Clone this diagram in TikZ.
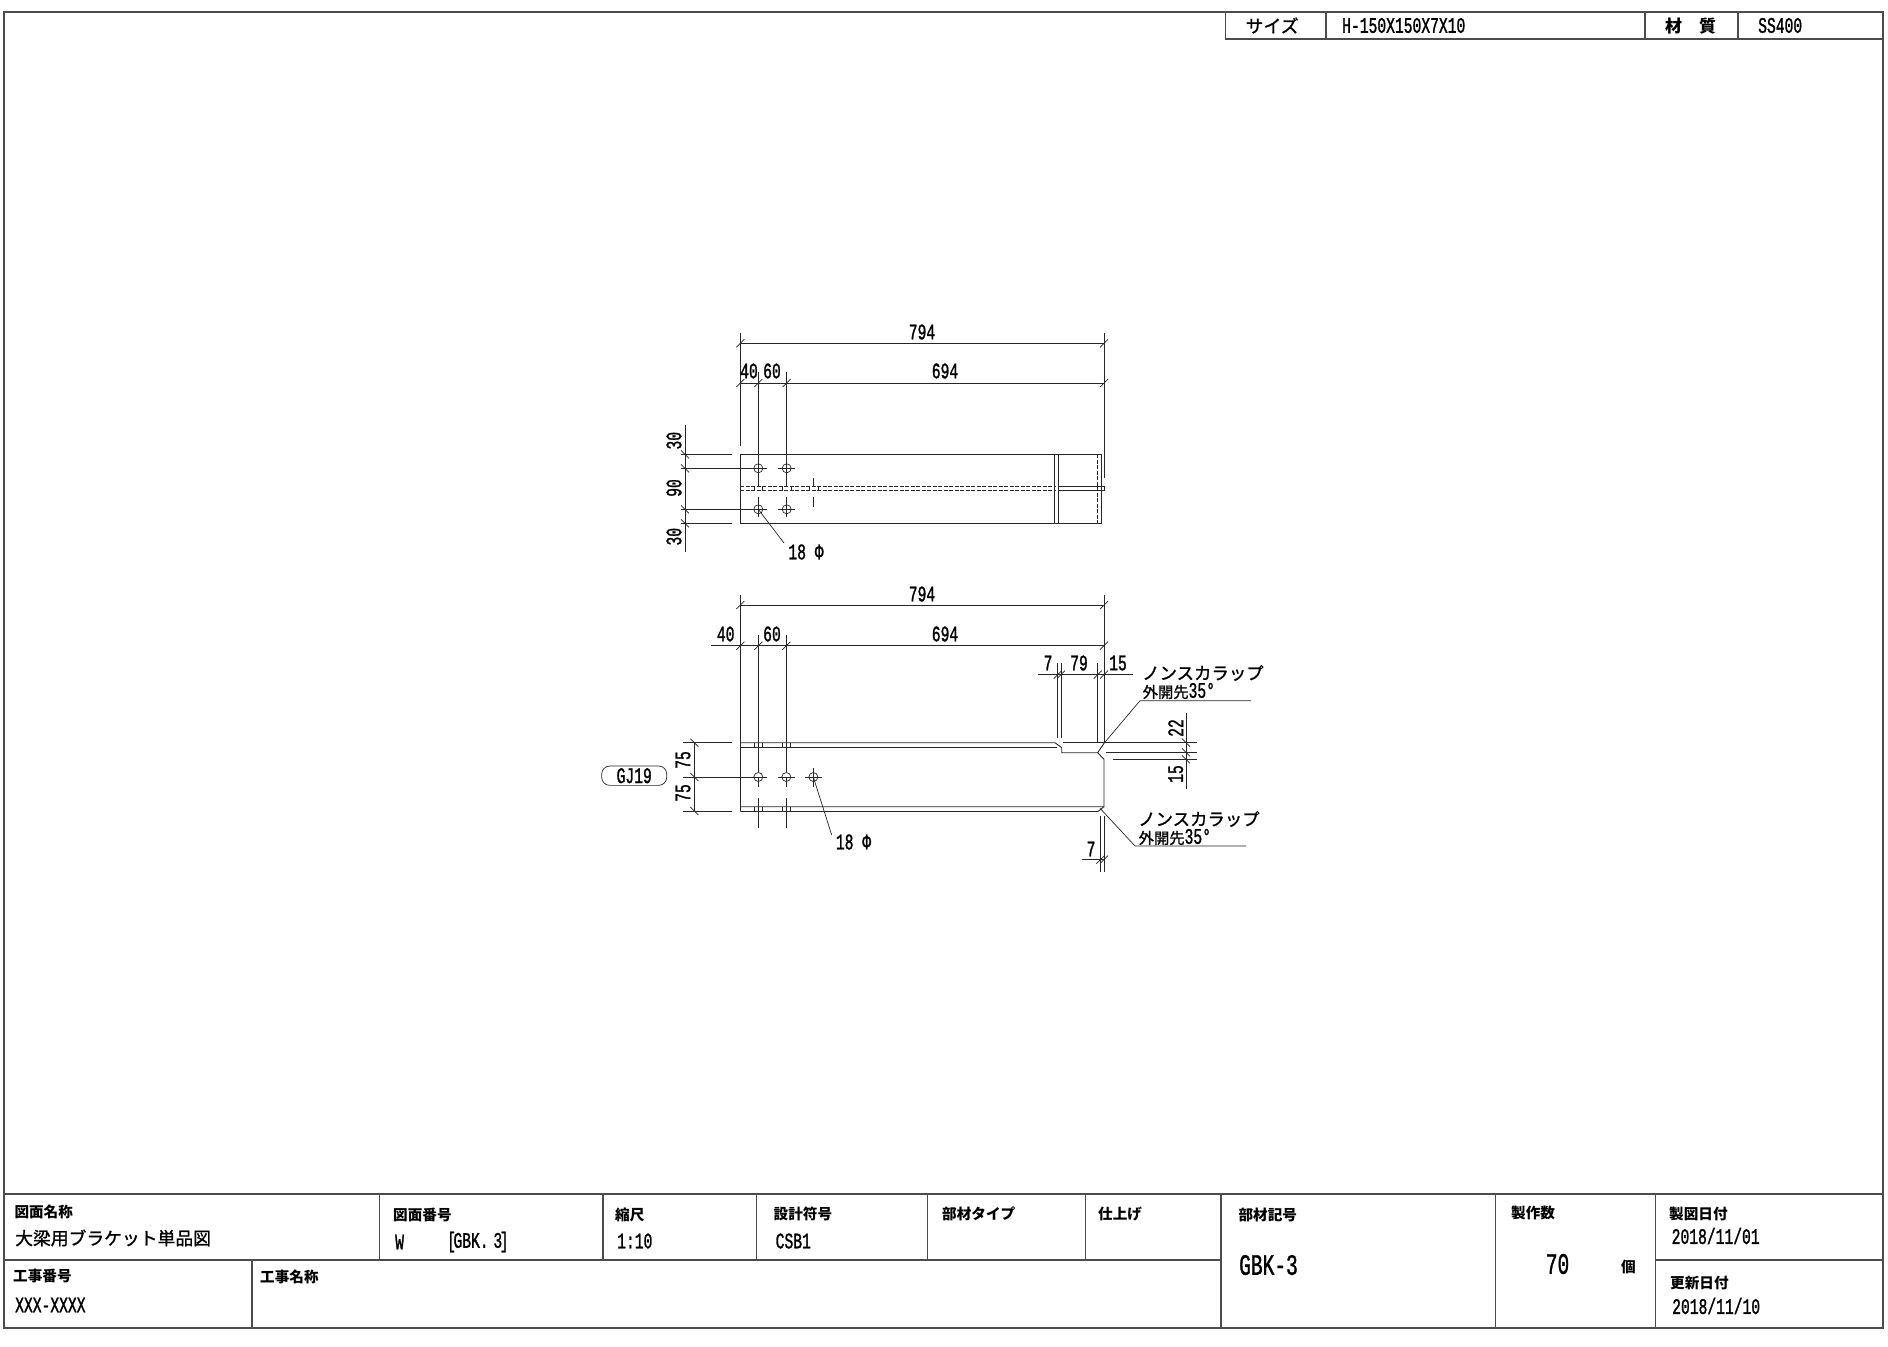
\documentclass[tikz,border=0pt]{standalone}
\usepackage{fontspec}
\newfontfamily\jpfont{Noto Sans CJK JP}
\newfontfamily\jpmidfont[FakeBold=1.2]{Noto Sans CJK JP}
\newfontfamily\narrowfont[FakeStretch=0.66,FakeBold=1.2]{Liberation Mono}
\tikzset{
  frameline/.style={line width=1.1pt,draw=black!70},
  partline/.style={line width=0.9pt,draw=black!85},
  dimline/.style={line width=0.7pt,draw=black!85},
  webline/.style={line width=0.8pt,draw=black!85,dash pattern=on 4pt off 1.5pt},
  dimtext/.style={inner sep=0pt,font=\narrowfont\fontsize{22.2}{22}\selectfont},
  valtext/.style={anchor=west,inner sep=0pt,font=\narrowfont\fontsize{22.2}{22}\selectfont},
  bigtext/.style={anchor=west,inner sep=0pt,font=\narrowfont\fontsize{29.6}{30}\selectfont},
  headtext/.style={anchor=west,inner sep=0pt,font=\jpfont\bfseries\fontsize{14.6}{15}\selectfont},
  nametext/.style={anchor=west,inner sep=0pt,font=\jpmidfont\fontsize{17.8}{18}\selectfont},
  notetext/.style={anchor=west,inner sep=0pt,font=\jpmidfont\fontsize{17.4}{18}\selectfont},
  subtext/.style={anchor=west,inner sep=0pt,font=\jpmidfont\fontsize{15.3}{16}\selectfont},
}
\begin{document}
\begin{tikzpicture}[x=1pt,y=1pt,yscale=-1,xscale=1]
  \useasboundingbox (0,0) rectangle (1888,1347);
  % Sheet frame
  \draw[frameline] (4,12) rectangle (1883,1328);
  \draw[frameline] (4,1194) -- (1883,1194) (4,1260) -- (1221,1260) (1655.5,1260) -- (1883,1260);
  \foreach \px in {379.6,603,756.7,927.8,1085.7} \draw[frameline] (\px,1194) -- (\px,1260);
  \draw[frameline] (252,1260) -- (252,1328);
  \foreach \px in {1221,1495.6,1655.5} \draw[frameline] (\px,1194) -- (\px,1328);
  \draw[frameline] (1225.6,12) -- (1225.6,39) -- (1883,39);
  \foreach \px in {1326,1645,1738} \draw[frameline] (\px,12) -- (\px,39);

  % Text Node
  \draw (1245.5,25.5) node [nametext] (sizehead) {サイズ};
  \draw (1342,25.5) node [valtext] (sizeval) {H-150X150X7X10};
  \draw (1665,26) node [headtext,font=\jpfont\bfseries\fontsize{17}{17}\selectfont] (mathead) {材\hspace{17pt}質};
  \draw (1758,25.5) node [valtext] (matval) {SS400};

  % Text Node
  \draw (14.3,1212) node [headtext] (titlehead) {図面名称};
  \draw (15,1238) node [nametext] (titleval) {大梁用ブラケット単品図};
  \draw (393,1215) node [headtext] (nohead) {図面番号};
  \draw (395,1242) node [valtext] (noval) {W};
  \draw (447,1242) node [valtext] (nocode) {[\kern-2.5pt GBK.\kern-2pt\ \kern-2pt 3\kern-2.5pt]};
  \draw (615,1215) node [headtext] (scalehead) {縮尺};
  \draw (617,1241) node [valtext] (scaleval) {1:10};
  \draw (773.5,1214) node [headtext] (designhead) {設計符号};
  \draw (775.5,1241) node [valtext] (designval) {CSB1};
  \draw (942,1214) node [headtext] (typehead) {部材タイプ};
  \draw (1098,1214) node [headtext] (finishhead) {仕上げ};
  \draw (13,1276) node [headtext] (jobnohead) {工事番号};
  \draw (15,1305) node [valtext] (jobnoval) {XXX-XXXX};
  \draw (260,1277) node [headtext] (jobhead) {工事名称};
  \draw (1238.4,1215) node [headtext] (markhead) {部材記号};
  \draw (1239,1265) node [bigtext] (markval) {GBK-3};
  \draw (1511,1213) node [headtext] (counthead) {製作数};
  \draw (1545.6,1264) node [bigtext] (countval) {70};
  \draw (1621,1267) node [headtext] (countunit) {個};
  \draw (1669,1214) node [headtext] (drawnhead) {製図日付};
  \draw (1671.5,1236) node [valtext] (drawnval) {2018/11/01};
  \draw (1670,1283) node [headtext] (updatehead) {更新日付};
  \draw (1672,1306) node [valtext] (updateval) {2018/11/10};

  % Upper view: body
  \draw[partline] (740.3,454.3) rectangle (1101,523.3);
  \draw[partline] (1054.7,454.3) -- (1054.7,523.3) (1058,454.3) -- (1058,523.3);
  \draw[webline] (1097.3,454.3) -- (1097.3,523.3);
  \draw[webline] (740.3,486.7) -- (1056,486.7) (740.3,490.7) -- (1056,490.7);
  \draw[partline] (1058,486.7) -- (1104,486.7) -- (1104,490.7) -- (1058,490.7);
  \foreach \px in {754,762.7,782,791,809,818} \draw[dimline] (\px,486.7) -- (\px,490.7);
  % Upper view: holes
  \foreach \px in {758.3,786.7} \foreach \py in {468.3,509.3} {
    \draw[dimline] (\px,\py) circle (4.5);
    \draw[dimline] (\px-8.5,\py) -- (\px+8.5,\py);
  }
  \draw[dimline] (758.3,372) -- (758.3,487) (786.7,372) -- (786.7,487);
  \draw[dimline] (758.3,497) -- (758.3,517) (786.7,497) -- (786.7,517);
  \draw[dimline] (813.3,478) -- (813.3,487) (813.3,497) -- (813.3,507);
  % Upper view: dimensions
  \draw[dimline] (740.3,333) -- (740.3,446) (1104,333) -- (1104,478);
  \draw[dimline] (740.3,343.3) -- (1104,343.3) (740.3,383) -- (1104,383);
  \foreach \px in {740.3,1104} \draw[dimline] (\px-4,347.3) -- (\px+4,339.3);
  \foreach \px in {740.3,758.3,786.7,1104} \draw[dimline] (\px-4,387) -- (\px+4,379);
  \draw[dimline] (685,425) -- (685,551.7);
  \draw[dimline] (681,454.3) -- (731.7,454.3) (681,523.3) -- (731.7,523.3);
  \draw[dimline] (681,468.3) -- (754,468.3) (681,509.3) -- (754,509.3);
  \foreach \py in {454.3,468.3,509.3,523.3} \draw[dimline] (681,\py-4) -- (689,\py+4);
  \draw[dimline] (758.3,509.3) -- (784,543);

  % Text Node
  \draw (922,332) node [dimtext] (upperall) {794};
  \draw (749,371) node [dimtext] (upperforty) {40};
  \draw (772,371) node [dimtext] (uppersixty) {60};
  \draw (945,371) node [dimtext] (upperrest) {694};
  \draw (674,440.7) node [dimtext,rotate=90] (uppertop) {30};
  \draw (674,488) node [dimtext,rotate=90] (uppermid) {90};
  \draw (674,536.7) node [dimtext,rotate=90] (upperlow) {30};
  \draw (806,552) node [dimtext] (upperhole) {18 Φ};

  % Lower view: body
  \draw[partline] (740.3,595) -- (740.3,811);
  \draw[partline] (740.3,742.7) -- (1055,742.7) -- (1061.7,747.7) -- (1061.7,752.7) -- (1097.7,752.7) -- (1104,743.3);
  \draw[partline] (740.3,747.7) -- (1056.5,747.7);
  \draw[partline] (1063.3,742.7) -- (1196.7,742.7);
  \draw[partline] (1097.7,752.7) -- (1104,759.3) -- (1104,806.7) -- (740.3,806.7);
  \draw[partline] (740.3,811.5) -- (1098,811.5) -- (1104,806.7);
  \draw[partline] (1104,595) -- (1104,743.3);
  \foreach \px in {754,762.7,782,790.7} {
    \draw[dimline] (\px,742.7) -- (\px,747.7);
    \draw[dimline] (\px,806.7) -- (\px,811.5);
  }
  % Lower view: holes
  \foreach \px in {758.3,786.3,813.3} {
    \draw[dimline] (\px,777) circle (4.5);
    \draw[dimline] (\px-8.5,777) -- (\px+8.5,777);
    \draw[dimline] (\px,777) -- (\px,786.7);
  }
  \draw[dimline] (813.3,768) -- (813.3,777);
  \draw[dimline] (758.3,635) -- (758.3,772) (786.3,635) -- (786.3,772);
  \draw[dimline] (758.3,798) -- (758.3,828) (786.3,798) -- (786.3,828);
  \draw[dimline] (813.3,777) -- (831.7,835);
  % Lower view: dimensions
  \draw[dimline] (740.3,605) -- (1104,605) (711,645.7) -- (1104,645.7);
  \foreach \px in {740.3,1104} \draw[dimline] (\px-4,609) -- (\px+4,601);
  \foreach \px in {740.3,758.3,786.3,1104} \draw[dimline] (\px-4,649.7) -- (\px+4,641.7);
  \draw[dimline] (694.3,742.7) -- (694.3,811);
  \draw[dimline] (683,742.7) -- (731.7,742.7) (683,811) -- (731.7,811) (683,777) -- (754,777);
  \foreach \py in {742.7,777,811} \draw[dimline] (690.3,\py-4) -- (698.3,\py+4);
  \draw[dimline] (1038,674.7) -- (1133,674.7);
  \draw[dimline] (1057.7,663) -- (1057.7,738) (1061,663) -- (1061,738) (1097.7,663) -- (1097.7,743);
  \foreach \px in {1057.7,1061,1097.7,1104} \draw[dimline] (\px-4,678.7) -- (\px+4,670.7);
  \draw[dimline] (1106,752.3) -- (1196.7,752.3) (1112.7,759.3) -- (1196.7,759.3);
  \draw[dimline] (1186,713.3) -- (1186,788.7);
  \foreach \py in {742.7,752.3,759.3} \draw[dimline] (1182,\py-4) -- (1190,\py+4);
  \draw[dimline] (1100.3,816) -- (1100.3,871.7) (1104,816) -- (1104,871.7);
  \draw[dimline] (1081.7,859.7) -- (1104,859.7);
  \foreach \px in {1100.3,1104} \draw[dimline] (\px-4,863.7) -- (\px+4,855.7);
  % Weld leaders
  \draw[dimline] (1104,743.3) -- (1140,700.7) -- (1251,700.7);
  \draw[dimline] (1100,808.3) -- (1135,846) -- (1246,846);

  % Text Node
  \draw (922,594) node [dimtext] (lowerall) {794};
  \draw (725.7,634) node [dimtext] (lowerforty) {40};
  \draw (772,634) node [dimtext] (lowersixty) {60};
  \draw (945,634) node [dimtext] (lowerrest) {694};
  \draw (1048,663) node [dimtext] (cutseven) {7};
  \draw (1079,663) node [dimtext] (cutlong) {79};
  \draw (1118,663) node [dimtext] (cutend) {15};
  \draw (683,760) node [dimtext,rotate=90] (lowertop) {75};
  \draw (683,793) node [dimtext,rotate=90] (lowerlow) {75};
  \draw (1175.7,728) node [dimtext,rotate=90] (weldtop) {22};
  \draw (1175.7,774) node [dimtext,rotate=90] (weldlow) {15};
  \draw (1091,849) node [dimtext] (flangeseven) {7};
  \draw (853.5,842) node [dimtext] (lowerhole) {18 Φ};
  \draw (634.2,775.7) node [dimtext,draw=black!85,line width=0.7pt,rounded corners=8pt,minimum width=65pt,minimum height=19.3pt] (jointtag) {GJ19};
  \draw (1142,673) node [notetext] (noteone) {ノンスカラップ};
  \draw (1142.5,691) node [subtext] (subone) {外開先{\narrowfont\fontsize{22.2}{22}\selectfont 35°}};
  \draw (1138,819) node [notetext] (notetwo) {ノンスカラップ};
  \draw (1138.5,837) node [subtext] (subtwo) {外開先{\narrowfont\fontsize{22.2}{22}\selectfont 35°}};
\end{tikzpicture}
\end{document}
